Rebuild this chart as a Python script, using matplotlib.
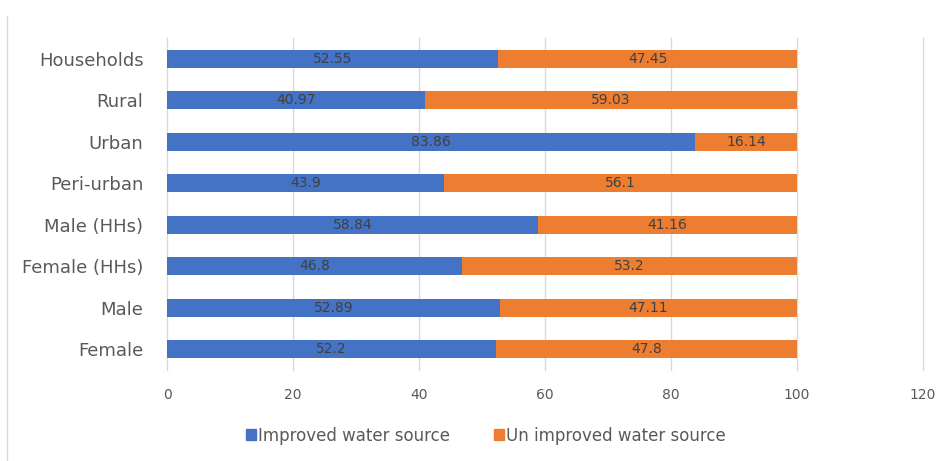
import matplotlib
matplotlib.use("Agg")
import matplotlib.pyplot as plt
from matplotlib.lines import Line2D
from matplotlib.patches import Patch

categories = ["Households", "Rural", "Urban", "Peri-urban",
              "Male (HHs)", "Female (HHs)", "Male", "Female"]
improved = [52.55, 40.97, 83.86, 43.9, 58.84, 46.8, 52.89, 52.2]
unimproved = [47.45, 59.03, 16.14, 56.1, 41.16, 53.2, 47.11, 47.8]
improved_labels = ["52.55", "40.97", "83.86", "43.9", "58.84", "46.8", "52.89", "52.2"]
unimproved_labels = ["47.45", "59.03", "16.14", "56.1", "41.16", "53.2", "47.11", "47.8"]
x_ticks = [0, 20, 40, 60, 80, 100, 120]

plt.rcParams["font.family"] = ["DejaVu Sans"]

BLUE = "#4472C4"
ORANGE = "#ED7D31"
TEXT = "#595959"

fig = plt.figure(figsize=(9.49, 4.61), dpi=100)
ax = fig.add_axes([0.176, 0.197, 0.7966, 0.7206])

pos = list(range(len(categories)))[::-1]
ax.barh(pos, improved, height=0.43, color=BLUE, zorder=3)
ax.barh(pos, unimproved, left=improved, height=0.43, color=ORANGE, zorder=3)

for y, a, b, la, lb in zip(pos, improved, unimproved, improved_labels, unimproved_labels):
    ax.text(a / 2, y, la, ha="center", va="center", fontsize=10, color="#404040", zorder=4)
    ax.text(a + b / 2, y, lb, ha="center", va="center", fontsize=10, color="#404040", zorder=4)

ax.set_xlim(0, 120)
ax.set_ylim(-0.5, len(categories) - 0.5)
ax.set_xticks(x_ticks)
ax.set_xticklabels([str(t) for t in x_ticks])
ax.set_yticks(pos)
ax.set_yticklabels(categories)
ax.xaxis.grid(True, color="#D9D9D9", linewidth=1, zorder=0)
for gl in ax.get_xgridlines():
    gl.set_clip_on(False)
for s in ax.spines.values():
    s.set_visible(False)
ax.tick_params(axis="x", length=0, pad=13, labelsize=10, labelcolor=TEXT)
ax.tick_params(axis="y", length=0, pad=17, labelsize=13, labelcolor=TEXT)

handles = [Patch(color=BLUE, label="Improved water source"),
           Patch(color=ORANGE, label="Un improved water source")]
fig.legend(handles=handles, loc="center", bbox_to_anchor=(0.512, 0.055), ncol=2,
           frameon=False, fontsize=12, labelcolor=TEXT, handlelength=0.6,
           handleheight=0.6, handletextpad=0.15, columnspacing=2.6)

fig.add_artist(Line2D([0.0075, 0.0075], [0.0, 0.965], transform=fig.transFigure,
                      color="#D9D9D9", linewidth=1))

fig.savefig("out.png", dpi=100)
